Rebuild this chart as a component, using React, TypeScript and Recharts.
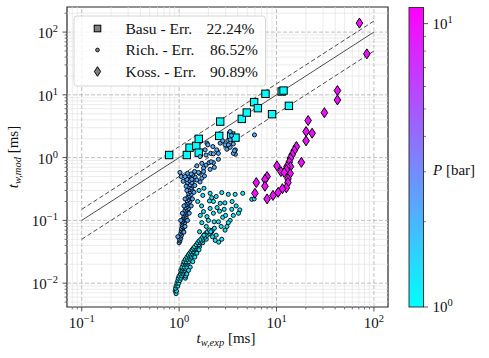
import React from "react";
import { ScatterChart, Scatter, XAxis, YAxis, ReferenceLine, ReferenceArea } from "recharts";

type Pt = [number, number];

// ---------- data ----------
const basuPoints: Pt[] = [
  [0.79, 1.1], [1.2, 1.1], [1.28, 1.44], [1.5, 1.54], [1.59, 1.99], [1.59, 1.2],
  [2.58, 2.22], [2.64, 3.75], [3.42, 2.24], [3.79, 2.08], [4.4, 4.14], [4.95, 5.22],
  [5.89, 7.65], [6.43, 6.14], [7.7, 10.4], [9.0, 4.92], [11.3, 11.3], [11.8, 11.7], [13.4, 6.68],
];

const richHighPPoints: Pt[] = [
  [1.0, 0.044], [1.02, 0.047], [1.01, 0.05], [1.04, 0.052], [1.03, 0.056], [1.06, 0.058],
  [1.04, 0.062], [1.07, 0.065], [1.05, 0.068], [1.09, 0.07], [1.06, 0.074], [1.1, 0.077],
  [1.08, 0.08], [1.12, 0.083], [1.07, 0.086], [1.1, 0.09], [1.14, 0.092], [1.09, 0.096],
  [1.12, 0.1], [1.16, 0.102], [1.1, 0.106], [1.14, 0.11], [1.18, 0.113], [1.12, 0.118],
  [1.16, 0.122], [1.2, 0.126], [1.13, 0.13], [1.18, 0.135], [1.22, 0.14], [1.15, 0.145],
  [1.2, 0.15], [1.25, 0.155], [1.17, 0.16], [1.22, 0.168], [1.27, 0.175], [1.19, 0.18],
  [1.24, 0.19], [1.29, 0.2], [1.21, 0.205], [1.26, 0.215], [1.31, 0.225], [1.23, 0.235],
  [1.28, 0.245], [1.33, 0.26], [1.25, 0.27], [1.3, 0.285], [1.36, 0.3], [1.27, 0.31],
  [1.33, 0.33], [1.25, 0.345], [1.38, 0.355], [1.3, 0.37], [1.22, 0.4], [1.35, 0.4],
  [1.28, 0.43], [1.42, 0.44], [1.2, 0.45], [1.33, 0.47], [1.46, 0.49], [1.05, 0.5],
  [1.25, 0.52], [1.38, 0.53], [1.02, 0.58], [1.22, 0.56], [1.33, 0.55], [1.62, 0.56],
  [1.71, 0.47], [1.64, 0.41], [1.52, 0.74], [1.71, 0.81], [1.64, 1.04], [1.89, 0.76],
  [1.89, 1.1], [1.78, 0.68], [1.93, 1.7], [1.97, 1.6], [2.11, 1.17], [2.25, 1.15],
  [2.53, 1.17], [2.64, 1.7], [2.8, 1.85], [2.96, 1.6], [3.09, 1.36], [3.34, 1.46],
  [3.6, 1.65], [3.78, 1.33], [3.78, 1.13], [3.16, 1.87], [3.6, 1.17], [2.53, 0.94],
  [2.43, 1.33], [1.85, 1.33], [2.22, 1.5], [5.94, 2.3], [3.34, 2.6], [3.45, 2.25],
  [3.34, 1.92], [2.03, 0.83], [2.25, 0.83], [2.3, 0.7], [2.08, 0.65], [2.13, 0.86],
  [1.44, 0.6], [1.58, 0.58], [1.78, 0.6], [1.82, 0.51], [1.35, 0.45], [1.52, 0.44],
  [3.2, 1.6], [3.7, 1.29],
  [0.97, 0.055], [1.12, 0.065], [1.15, 0.08], [1.04, 0.1], [1.22, 0.1], [1.08, 0.13],
  [1.27, 0.13], [1.12, 0.17], [1.33, 0.17], [1.15, 0.22], [1.37, 0.22], [1.2, 0.3],
  [1.42, 0.28], [1.18, 0.35], [1.45, 0.36], [1.15, 0.5], [1.1, 0.42],
];

const richLowPPoints: Pt[] = [
  [0.93, 0.0068], [0.91, 0.0075], [0.94, 0.0075], [0.92, 0.0083], [0.93, 0.009], [0.97, 0.009],
  [0.95, 0.01], [0.99, 0.01], [0.97, 0.011], [1.02, 0.011], [0.98, 0.012], [1.04, 0.012],
  [1.16, 0.012], [1.0, 0.013], [1.06, 0.013], [1.17, 0.013], [1.03, 0.014], [1.09, 0.014],
  [1.05, 0.015], [1.11, 0.015], [1.18, 0.015], [1.04, 0.016], [1.08, 0.016], [1.14, 0.016],
  [1.1, 0.017], [1.16, 0.017], [1.07, 0.018], [1.13, 0.018], [1.2, 0.018], [1.1, 0.02],
  [1.16, 0.02], [1.23, 0.02], [1.14, 0.021], [1.2, 0.021], [1.12, 0.022], [1.18, 0.022],
  [1.26, 0.022], [1.16, 0.024], [1.22, 0.024], [1.3, 0.024], [1.2, 0.026], [1.27, 0.026],
  [1.34, 0.026], [1.24, 0.028], [1.31, 0.028], [1.4, 0.028], [1.28, 0.03], [1.35, 0.03],
  [1.45, 0.03], [1.32, 0.032], [1.4, 0.032], [1.36, 0.034], [1.45, 0.034], [1.52, 0.034],
  [1.4, 0.036], [1.5, 0.036], [1.44, 0.038], [1.55, 0.038], [1.62, 0.038], [1.5, 0.041],
  [1.6, 0.041], [1.55, 0.044], [1.65, 0.044], [1.75, 0.044], [1.6, 0.047], [1.7, 0.047],
  [1.67, 0.05], [1.78, 0.05], [1.9, 0.05], [1.74, 0.054], [1.85, 0.054], [1.8, 0.058],
  [1.95, 0.058], [1.88, 0.062], [2.05, 0.062], [1.95, 0.066], [2.16, 0.066], [2.05, 0.07],
  [2.2, 0.07], [1.3, 0.018], [1.38, 0.022], [1.45, 0.026], [1.52, 0.03], [1.6, 0.034],
  [1.2, 0.014], [1.25, 0.016],
  [2.08, 0.27], [2.74, 0.277], [3.2, 0.26], [3.76, 0.26], [4.5, 0.27], [5.57, 0.217],
  [5.9, 0.22], [2.05, 0.204], [1.75, 0.25], [1.8, 0.325], [2.25, 0.2], [2.64, 0.187],
  [2.95, 0.19], [3.85, 0.17], [4.2, 0.147], [4.07, 0.13], [3.47, 0.15], [3.34, 0.1],
  [3.2, 0.092], [2.8, 0.112], [2.53, 0.095], [2.29, 0.095], [2.0, 0.1], [1.71, 0.092],
  [1.62, 0.066], [1.8, 0.058], [2.11, 0.066], [2.4, 0.058], [2.96, 0.07], [2.74, 0.05],
  [2.25, 0.13], [2.08, 0.155], [1.78, 0.138], [1.93, 0.115], [2.6, 0.14], [2.45, 0.16],
  [3.0, 0.12], [2.7, 0.08], [3.1, 0.08], [2.3, 0.075], [1.9, 0.08], [1.65, 0.12],
  [1.55, 0.2], [2.16, 0.23], [2.4, 0.24], [3.5, 0.2], [2.9, 0.15], [2.35, 0.048],
  [2.55, 0.045], [2.2, 0.055], [1.7, 0.17], [3.6, 0.12], [1.6, 0.3],
];

const kossPoints: Pt[] = [
  [71, 139], [84.6, 45], [42.2, 11.7], [42.2, 8.3], [31, 5.2], [21.1, 3.9], [20.1, 2.6],
  [23.2, 2.45], [20.1, 1.85], [16, 1.5], [15.2, 1.3], [14.5, 1.12], [13.9, 0.98], [13.5, 0.85],
  [18, 0.84], [13.9, 0.72], [12.8, 0.72], [10.1, 0.74], [11.1, 0.6], [13.8, 0.56], [12.6, 0.64],
  [13.1, 0.46], [13.1, 0.4], [12.6, 0.33], [11.5, 0.32], [10.4, 0.28], [9.2, 0.25], [8.0, 0.22],
  [8.0, 0.5], [7.6, 0.45], [7.6, 0.35], [6.2, 0.4], [6.0, 0.27], [12.0, 0.58],
];

const basuPressure = 1;
const richLowPressure = 1.27;
const richHighPressure = 2.2;
const kossPressure = 10;
const pressureMin = 1;
const pressureMax = 11.4;

const legendNames = ["Basu", "Rich.", "Koss."];
const legendErrors = ["22.24%", "86.52%", "90.89%"];

const xMajorTicks = [0.1, 1, 10, 100];
const xMajorExponents = ["\u22121", "0", "1", "2"];
const xMinorTicks = [0.08, 0.09, 0.2, 0.3, 0.4, 0.5, 0.6, 0.7, 0.8, 0.9, 2, 3, 4, 5, 6, 7, 8, 9, 20, 30, 40, 50, 60, 70, 80, 90];
const yMajorTicks = [0.01, 0.1, 1, 10, 100];
const yMajorExponents = ["\u22122", "\u22121", "0", "1", "2"];
const yMinorTicks = [0.005, 0.006, 0.007, 0.008, 0.009, 0.02, 0.03, 0.04, 0.05, 0.06, 0.07, 0.08, 0.09, 0.2, 0.3, 0.4, 0.5, 0.6, 0.7, 0.8, 0.9, 2, 3, 4, 5, 6, 7, 8, 9, 20, 30, 40, 50, 60, 70, 80, 90, 200];
const cbarMajorTicks = [1, 10];
const cbarMajorExponents = ["0", "1"];
const cbarMinorTicks = [2, 3, 4, 5, 6, 7, 8, 9];

const X_DOMAIN: [number, number] = [0.0706, 139.5];
const Y_DOMAIN: [number, number] = [0.00417, 251];

// ---------- helpers ----------
const W = 489;
const H = 358;
const FONT = "'Liberation Serif', 'DejaVu Serif', serif";
const AX = "#262626";

const coolColor = (p: number) => {
  const t = Math.max(0, Math.min(1, Math.log10(p / pressureMin) / Math.log10(pressureMax / pressureMin)));
  return `rgb(${Math.round(255 * t)},${Math.round(255 * (1 - t))},255)`;
};

const rows = (pts: Pt[], p: number) => pts.map(([x, y]) => ({ x, y, c: coolColor(p) }));

const basuRows = rows(basuPoints, basuPressure);
const richRows = [...rows(richHighPPoints, richHighPressure), ...rows(richLowPPoints, richLowPressure)];
const kossRows = rows(kossPoints, kossPressure);

const isMajor = (list: number[], v: number) => list.findIndex((t) => Math.abs(t - v) / t < 1e-6);

const SQ = 3.7;
const SquareShape = (props: any) => {
  const { cx, cy, payload } = props;
  if (cx == null || cy == null) return null;
  return <rect x={cx - SQ} y={cy - SQ} width={2 * SQ} height={2 * SQ} fill={payload.c} stroke="#000" strokeWidth={1} />;
};
const CircleShape = (props: any) => {
  const { cx, cy, payload } = props;
  if (cx == null || cy == null) return null;
  return <circle cx={cx} cy={cy} r={2.05} fill={payload.c} stroke="#000" strokeWidth={0.9} />;
};
const DiamondShape = (props: any) => {
  const { cx, cy, payload } = props;
  if (cx == null || cy == null) return null;
  const w = 3.3, h = 5;
  return (
    <path d={`M${cx},${cy - h}L${cx + w},${cy}L${cx},${cy + h}L${cx - w},${cy}Z`} fill={payload.c} stroke="#000" strokeWidth={1} />
  );
};

const XTick = (props: any) => {
  const { x, y, payload } = props;
  const i = isMajor(xMajorTicks, payload.value);
  if (i < 0) return <line x1={x} x2={x} y1={y} y2={y + 2.5} stroke={AX} strokeWidth={0.6} />;
  return (
    <g>
      <line x1={x} x2={x} y1={y} y2={y + 4.5} stroke={AX} strokeWidth={0.8} />
      <text x={x} y={y + 21} textAnchor="middle" fontFamily={FONT} fontSize={15} fill="#111">
        <tspan>10</tspan>
        <tspan dy={-6} fontSize={10.5}>{xMajorExponents[i]}</tspan>
      </text>
    </g>
  );
};

const YTick = (props: any) => {
  const { x, y, payload } = props;
  const i = isMajor(yMajorTicks, payload.value);
  if (i < 0) return <line x1={x} x2={x - 2.5} y1={y} y2={y} stroke={AX} strokeWidth={0.6} />;
  return (
    <g>
      <line x1={x} x2={x - 4.5} y1={y} y2={y} stroke={AX} strokeWidth={0.8} />
      <text x={x - 9} y={y + 6} textAnchor="end" fontFamily={FONT} fontSize={15} fill="#111">
        <tspan>10</tspan>
        <tspan dy={-6} fontSize={10.5}>{yMajorExponents[i]}</tspan>
      </text>
    </g>
  );
};

// colorbar geometry
const CB = { x: 409, w: 14.5, top: 7.5, bottom: 307 };
const cbY = (p: number) =>
  CB.bottom - (Math.log10(p / pressureMin) / Math.log10(pressureMax / pressureMin)) * (CB.bottom - CB.top);

const legendRowY = [28.5, 50, 71.5];

export default function App() {
  return (
    <div style={{ position: "relative", width: W, height: H }}>
      <style>{"body{margin:0}"}</style>
      <ScatterChart width={W} height={H} margin={{ top: 7, right: 101, bottom: 0, left: 0 }}>
        <XAxis
          type="number"
          dataKey="x"
          scale="log"
          domain={X_DOMAIN}
          allowDataOverflow
          ticks={[...xMajorTicks, ...xMinorTicks]}
          interval={0}
          tickLine={false}
          tickSize={0}
          tickMargin={0}
          axisLine={false}
          tick={<XTick />}
          height={51}
        />
        <YAxis
          type="number"
          dataKey="y"
          scale="log"
          domain={Y_DOMAIN}
          allowDataOverflow
          ticks={[...yMajorTicks, ...yMinorTicks]}
          interval={0}
          tickLine={false}
          tickSize={0}
          tickMargin={0}
          axisLine={false}
          tick={<YTick />}
          width={67}
        />
        {xMinorTicks.map((v) => (
          <ReferenceLine key={"xm" + v} x={v} stroke="#e4e4e4" strokeWidth={0.7} />
        ))}
        {yMinorTicks.map((v) => (
          <ReferenceLine key={"ym" + v} y={v} stroke="#e4e4e4" strokeWidth={0.7} />
        ))}
        {xMajorTicks.map((v) => (
          <ReferenceLine key={"xM" + v} x={v} stroke="#b0b0b0" strokeWidth={0.8} strokeDasharray="4 2" />
        ))}
        {yMajorTicks.map((v) => (
          <ReferenceLine key={"yM" + v} y={v} stroke="#b0b0b0" strokeWidth={0.8} strokeDasharray="4 2" />
        ))}
        <Scatter data={basuRows} shape={<SquareShape />} isAnimationActive={false} />
        <Scatter data={richRows} shape={<CircleShape />} isAnimationActive={false} />
        <Scatter data={kossRows} shape={<DiamondShape />} isAnimationActive={false} />
        <ReferenceLine segment={[{ x: 0.1, y: 0.1 }, { x: 100, y: 100 }]} stroke="#4d4d4d" strokeWidth={1} />
        <ReferenceLine segment={[{ x: 0.1, y: 0.15 }, { x: 100, y: 150 }]} stroke="#4d4d4d" strokeWidth={1} strokeDasharray="4.5 2.5" />
        <ReferenceLine segment={[{ x: 0.1, y: 0.05 }, { x: 100, y: 50 }]} stroke="#4d4d4d" strokeWidth={1} strokeDasharray="4.5 2.5" />
        <ReferenceArea x1={X_DOMAIN[0]} x2={X_DOMAIN[1]} y1={Y_DOMAIN[0]} y2={Y_DOMAIN[1]} fill="none" fillOpacity={0} stroke={AX} strokeWidth={1.2} strokeOpacity={1} />
      </ScatterChart>

      <svg width={W} height={H} style={{ position: "absolute", left: 0, top: 0, pointerEvents: "none" }}>
        <defs>
          <linearGradient id="coolGrad" x1="0" y1="1" x2="0" y2="0">
            <stop offset="0%" stopColor={coolColor(pressureMin)} />
            <stop offset="100%" stopColor={coolColor(pressureMax)} />
          </linearGradient>
        </defs>

        {/* legend */}
        <rect x={74} y={16} width={191.5} height={70} rx={3} fill="#fff" fillOpacity={0.8} stroke="#cccccc" strokeWidth={0.8} />
        <rect x={97.5 - 3.3} y={legendRowY[0] - 3.3} width={6.6} height={6.6} fill="#808080" stroke="#000" strokeWidth={1} />
        <circle cx={97.5} cy={legendRowY[1]} r={1.9} fill="#808080" stroke="#000" strokeWidth={0.8} />
        <path d={`M97.5,${legendRowY[2] - 4.8}L100.6,${legendRowY[2]}L97.5,${legendRowY[2] + 4.8}L94.4,${legendRowY[2]}Z`} fill="#808080" stroke="#000" strokeWidth={1} />
        {legendNames.map((n, i) => (
          <text key={n} y={legendRowY[i] + 5} fontFamily={FONT} fontSize={15.5} fill="#111">
            <tspan x={125.5} style={{ whiteSpace: "pre" }}>{n + " - Err."}</tspan>
            <tspan x={i === 0 ? 206.5 : 210}>{legendErrors[i]}</tspan>
          </text>
        ))}

        {/* axis labels */}
        <text x={226} y={343} textAnchor="middle" fontFamily={FONT} fontSize={15} fill="#111">
          <tspan fontStyle="italic">t</tspan>
          <tspan fontStyle="italic" fontSize={10.5} dy={3}>w,exp</tspan>
          <tspan dy={-3}> [ms]</tspan>
        </text>
        <text x={0} y={0} transform="translate(18,157) rotate(-90)" textAnchor="middle" fontFamily={FONT} fontSize={15} fill="#111">
          <tspan fontStyle="italic">t</tspan>
          <tspan fontStyle="italic" fontSize={10.5} dy={3}>w,mod</tspan>
          <tspan dy={-3}> [ms]</tspan>
        </text>

        {/* colorbar */}
        <rect x={CB.x} y={CB.top} width={CB.w} height={CB.bottom - CB.top} fill="url(#coolGrad)" stroke={AX} strokeWidth={0.9} />
        {cbarMinorTicks.map((p) => (
          <line key={"cm" + p} x1={CB.x + CB.w} x2={CB.x + CB.w + 2.5} y1={cbY(p)} y2={cbY(p)} stroke={AX} strokeWidth={0.6} />
        ))}
        {cbarMajorTicks.map((p, i) => (
          <g key={"cM" + p}>
            <line x1={CB.x + CB.w} x2={CB.x + CB.w + 4.5} y1={cbY(p)} y2={cbY(p)} stroke={AX} strokeWidth={0.8} />
            <text x={432.5} y={cbY(p) + 5} fontFamily={FONT} fontSize={15} fill="#111">
              <tspan>10</tspan>
              <tspan dy={-6} fontSize={10.5}>{cbarMajorExponents[i]}</tspan>
            </text>
          </g>
        ))}
        <text x={433} y={175} fontFamily={FONT} fontSize={15} fill="#111">
          <tspan fontStyle="italic">P</tspan>
          <tspan> [bar]</tspan>
        </text>
      </svg>
    </div>
  );
}
